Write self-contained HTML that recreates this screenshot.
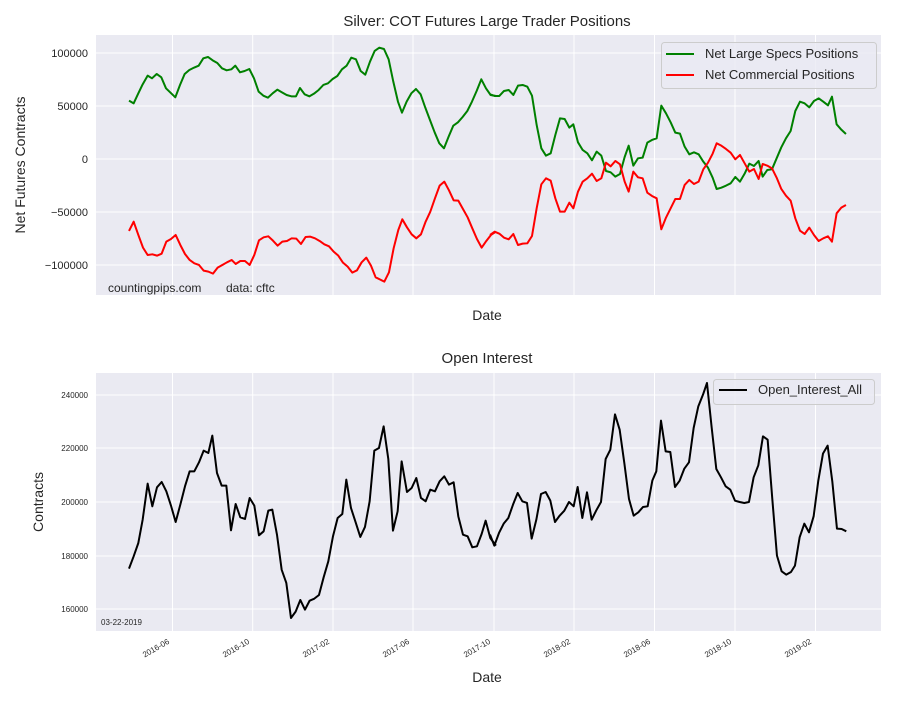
<!DOCTYPE html>
<html><head><meta charset="utf-8"><style>
body{margin:0;background:#fff}
text{font-family:"Liberation Sans",sans-serif;fill:#262626}
</style></head><body>
<svg width="900" height="700" xmlns="http://www.w3.org/2000/svg">
<rect x="96" y="35" width="785" height="260" fill="#EAEAF2"/>
<rect x="96" y="373" width="785" height="258" fill="#EAEAF2"/>
<g stroke="#fff" stroke-width="1">
<line x1="96" x2="881" y1="53" y2="53"/><line x1="96" x2="881" y1="106" y2="106"/><line x1="96" x2="881" y1="159" y2="159"/><line x1="96" x2="881" y1="212" y2="212"/><line x1="96" x2="881" y1="265" y2="265"/>
<line x1="96" x2="881" y1="395" y2="395"/><line x1="96" x2="881" y1="448" y2="448"/><line x1="96" x2="881" y1="502" y2="502"/><line x1="96" x2="881" y1="556" y2="556"/><line x1="96" x2="881" y1="609" y2="609"/>
</g>
<g stroke="#fff" stroke-width="1">
<path d="M172.5 35V295M252.7 35V295M333 35V295M413 35V295M494 35V295M574 35V295M654.5 35V295M735 35V295M815.5 35V295"/>
<path d="M172.5 373V631M252.7 373V631M333 373V631M413 373V631M494 373V631M574 373V631M654.5 373V631M735 373V631M815.5 373V631"/>
</g>
<text x="487" y="26" font-size="15" text-anchor="middle">Silver: COT Futures Large Trader Positions</text>
<text x="487" y="363" font-size="15" text-anchor="middle">Open Interest</text>
<g font-size="11" text-anchor="end">
<text x="88" y="57">100000</text><text x="88" y="110">50000</text><text x="88" y="163">0</text><text x="88" y="216">−50000</text><text x="88" y="269">−100000</text>
</g>
<g font-size="8" text-anchor="end">
<text x="88" y="398">240000</text><text x="88" y="451">220000</text><text x="88" y="505">200000</text><text x="88" y="559">180000</text><text x="88" y="612">160000</text>
</g>
<g font-size="8" text-anchor="end">
<text transform="translate(170,643) rotate(-30)">2016-06</text>
<text transform="translate(250,643) rotate(-30)">2016-10</text>
<text transform="translate(330,643) rotate(-30)">2017-02</text>
<text transform="translate(410,643) rotate(-30)">2017-06</text>
<text transform="translate(491,643) rotate(-30)">2017-10</text>
<text transform="translate(571,643) rotate(-30)">2018-02</text>
<text transform="translate(651,643) rotate(-30)">2018-06</text>
<text transform="translate(732,643) rotate(-30)">2018-10</text>
<text transform="translate(812,643) rotate(-30)">2019-02</text>
</g>
<text x="487" y="320" font-size="14" text-anchor="middle">Date</text>
<text x="487" y="682" font-size="14" text-anchor="middle">Date</text>
<text transform="translate(25,165) rotate(-90)" font-size="14" text-anchor="middle">Net Futures Contracts</text>
<text transform="translate(43,502) rotate(-90)" font-size="14" text-anchor="middle">Contracts</text>
<text x="108" y="292" font-size="12" fill="#000">countingpips.com</text>
<text x="226" y="292" font-size="12" fill="#000">data: cftc</text>
<text x="101" y="625" font-size="8" fill="#000">03-22-2019</text>
<g fill="none" stroke-width="6" stroke-linejoin="round">
<g transform="translate(96,35) scale(0.3333)">
<polyline stroke="green" points="99,197 113,205 127,175 140,148 155,122 168,130 182,117 196,127 210,160 238,187 252,150 266,117 280,105 294,98 308,92 322,70 336,66 350,76 364,84 378,100 392,106 406,103 418,92 432,112 446,108 460,102 474,130 488,170 502,182 516,188 530,175 544,164 558,172 572,180 586,184 600,184 612,159 626,178 640,184 654,176 668,165 682,150 696,145 710,132 724,123 738,103 752,92 766,68 780,73 794,108 808,119 822,80 836,48 850,38 864,42 878,73 892,140 906,200 918,233 932,200 946,175 960,162 974,178 988,218 1002,255 1016,292 1030,325 1044,340 1058,305 1072,272 1086,262 1100,246 1114,228 1128,200 1142,168 1156,133 1170,160 1184,180 1200,183"/>
<polyline stroke="red" points="99,588 113,560 127,600 141,638 155,660 169,658 183,662 197,656 211,620 225,612 239,600 253,630 267,657 281,675 295,685 309,690 323,707 337,710 351,716 365,698 379,690 393,682 407,675 419,687 433,678 447,678 461,690 475,660 489,616 503,607 517,604 531,617 545,632 559,620 573,618 587,610 601,611 615,627 629,606 643,605 657,610 671,618 685,628 699,634 713,650 727,662 741,683 755,695 769,713 783,706 797,682 811,668 825,692 839,727 853,734 865,740 879,712 893,640 907,585 919,553 933,577 947,598 961,610 975,598 989,560 1003,530 1017,490 1031,452 1045,440 1059,466 1073,496 1087,497 1101,522 1115,547 1129,580 1143,612 1157,638 1171,618 1185,600 1200,590"/>
</g>
<g transform="translate(490,35) scale(0.3333)">
<polyline stroke="green" points="0,178 14,183 28,183 42,168 56,165 70,180 84,152 98,150 112,155 126,182 140,270 154,340 168,362 182,355 196,300 210,250 224,252 238,278 250,268 264,322 278,345 292,355 306,376 320,350 334,362 348,408 362,412 376,425 390,417 404,366 416,332 430,392 444,370 458,368 472,323 486,315 500,310 514,212 528,235 542,262 556,293 570,296 584,335 598,358 612,352 626,358 640,380 654,398 668,428 680,462 694,458 708,452 722,445 736,426 750,440 764,416 778,386 792,393 806,378 818,425 832,405 846,403 860,370 874,337 888,310 902,288 916,228 930,200 944,205 958,217 972,198 986,190 1000,200 1014,211 1026,185 1040,268 1054,284 1068,297"/>
<polyline stroke="red" points="0,600 14,590 28,596 42,608 56,613 70,597 84,630 98,626 112,625 126,603 140,520 154,448 168,430 182,437 196,490 210,530 224,530 238,503 250,520 264,470 278,440 292,430 306,416 320,438 334,430 348,383 362,394 376,378 390,388 404,440 416,470 430,410 444,427 458,430 472,473 486,483 500,490 514,583 528,548 542,520 556,492 570,492 584,450 598,435 612,447 626,440 640,403 654,383 668,356 680,325 694,332 708,342 722,353 736,373 750,360 764,385 778,410 792,402 806,432 818,387 832,392 846,400 860,428 874,462 888,482 902,497 916,550 930,587 944,597 958,578 972,600 986,618 1000,610 1014,604 1026,620 1040,535 1054,518 1068,510"/>
</g>
<g transform="translate(96,373) scale(0.3333)">
<polyline stroke="#000" points="99,587 113,550 127,510 140,440 155,332 169,400 183,343 197,327 211,355 225,398 239,447 253,395 267,340 281,295 295,295 309,268 323,233 337,240 349,188 363,300 377,338 391,338 405,472 419,393 433,433 447,438 461,375 475,398 489,487 503,475 517,413 529,410 543,485 557,590 571,630 585,735 599,716 613,681 627,710 641,683 655,677 669,666 683,613 697,565 711,490 725,435 739,423 751,320 765,405 779,448 793,492 807,462 821,385 835,233 849,225 863,160 877,258 891,473 905,415 917,265 933,357 947,345 961,315 975,375 989,385 1003,350 1017,355 1031,325 1045,310 1059,335 1073,328 1087,430 1101,485 1115,490 1129,523 1143,520 1157,483 1169,443 1183,495 1200,518"/>
</g>
<g transform="translate(490,373) scale(0.3333)">
<polyline stroke="#000" points="0,485 13,518 27,480 41,452 55,435 69,395 83,360 97,385 111,390 125,497 139,440 153,363 167,357 181,383 195,447 209,428 223,413 237,387 251,400 263,342 277,435 291,358 305,440 319,412 333,387 347,258 361,230 375,124 389,170 403,270 417,378 431,428 445,418 459,402 473,400 487,323 499,295 513,143 527,235 541,237 555,342 569,323 583,287 597,268 611,165 625,100 639,65 651,30 665,163 679,288 693,313 707,340 721,350 735,383 749,387 763,390 777,387 791,313 805,277 819,190 833,200 847,378 861,548 875,595 889,605 903,597 915,578 929,493 943,452 957,478 971,430 985,323 999,242 1013,218 1027,325 1041,467 1055,468 1069,475"/>
</g>
</g>
<rect x="661.5" y="42.5" width="215" height="46" rx="3" fill="#EAEAF2" fill-opacity="0.8" stroke="#ccc"/>
<line x1="666" x2="694" y1="54" y2="54" stroke="green" stroke-width="2"/>
<line x1="666" x2="694" y1="75" y2="75" stroke="red" stroke-width="2"/>
<text x="705" y="58" font-size="13">Net Large Specs Positions</text>
<text x="705" y="79" font-size="13">Net Commercial Positions</text>
<rect x="713.5" y="379.5" width="161" height="25" rx="3" fill="#EAEAF2" fill-opacity="0.8" stroke="#ccc"/>
<line x1="719" x2="747" y1="390" y2="390" stroke="#000" stroke-width="2"/>
<text x="758" y="394" font-size="13">Open_Interest_All</text>
</svg>
</body></html>
